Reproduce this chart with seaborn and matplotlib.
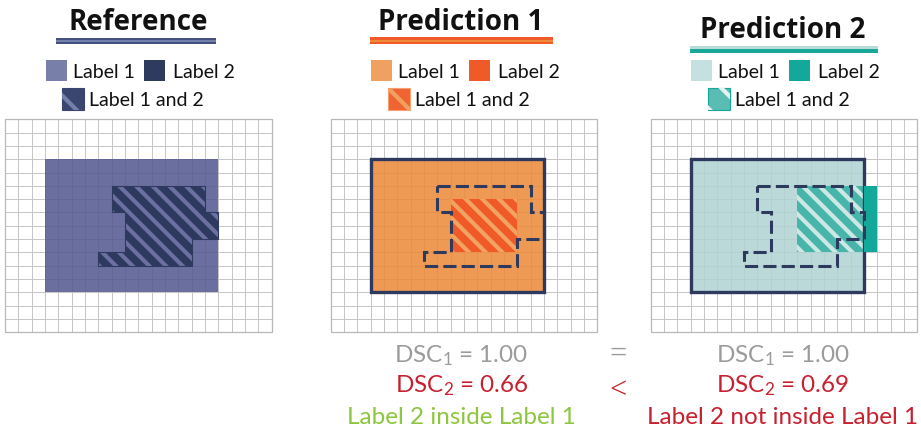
import numpy as np
import matplotlib
matplotlib.use("Agg")
import matplotlib.pyplot as plt
import seaborn as sns
from matplotlib.patches import Rectangle, Polygon
from matplotlib.path import Path
from matplotlib.colors import ListedColormap

# ---------------- data ----------------
N_ROWS, N_COLS = 16, 20
panel_titles = ["Reference", "Prediction 1", "Prediction 2"]
legend_labels = ["Label 1", "Label 2", "Label 1 and 2"]
# boxes as (col0, row0, col1, row1) in grid cells
label1_boxes = [(3, 3, 16, 13), (3, 3, 16, 13), (3, 3, 16, 13)]
reference_label2 = [(8, 5), (15, 5), (15, 7), (16, 7), (16, 9), (14, 9), (14, 11),
                    (7, 11), (7, 10), (9, 10), (9, 7), (8, 7)]
pred1_label2_box = (9, 6, 14, 10)
pred2_label2_box = (11, 5, 17, 10)
dsc1_values = [1.00, 1.00]
dsc2_values = [0.66, 0.69]
verdicts = ["Label 2 inside Label 1", "Label 2 not inside Label 1"]
comparators = ["=", "<"]

# ---------------- style ----------------
sns.set_theme(style="white")
plt.rcParams["font.family"] = ["Lato", "DejaVu Sans"]
plt.rcParams["mathtext.fontset"] = "custom"
plt.rcParams["mathtext.rm"] = "Lato"
plt.rcParams["mathtext.it"] = "Lato:italic"
plt.rcParams["mathtext.bf"] = "Lato:bold"
plt.rcParams["hatch.linewidth"] = 3.0

W, H = 921, 432
fig = plt.figure(figsize=(W / 100, H / 100), dpi=100)
ov = fig.add_axes([0, 0, 1, 1])
ov.set_xlim(0, W)
ov.set_ylim(H, 0)
ov.axis("off")

NAVY = "#2d3a5e"
pal = [
    dict(l1="#51568e", both="#273457", only2="#2e3a5e", stripe="#6b70a0",
         sw1="#7880aa", sw2="#2e3a5e", swb="#3a4670", sws="#7580a8", swe="#3a4670",
         bar_dark="#44507e", bar_light="#7380aa"),
    dict(l1="#ec8837", both="#f15324", only2="#f05a28", stripe="#f2a261",
         sw1="#f0a060", sw2="#f05a28", swb="#f06432", sws="#f2a060", swe="#f4a070",
         bar_dark="#f05a28", bar_light="#f08a3a"),
    dict(l1="#b0d3d3", both="#3bb1a5", only2="#14a89a", stripe="#cde8e4",
         sw1="#c5e0e0", sw2="#14a89a", swb="#5abcb2", sws="#e2f2f0", swe="#14a89a",
         bar_dark="#19a898", bar_light="#b8dcd8"),
]


def box_poly(b):
    c0, r0, c1, r1 = b
    return [(c0, r0), (c1, r0), (c1, r1), (c0, r1)]


def box_intersect(a, b):
    return (max(a[0], b[0]), max(a[1], b[1]), min(a[2], b[2]), min(a[3], b[3]))


cc, rr = np.meshgrid(np.arange(N_COLS) + 0.5, np.arange(N_ROWS) + 0.5)
centers = np.column_stack([cc.ravel(), rr.ravel()])


def poly_mask(verts):
    return Path(verts).contains_points(centers).reshape(N_ROWS, N_COLS)


label2_polys = [reference_label2, box_poly(pred1_label2_box), box_poly(pred2_label2_box)]
both_polys = [reference_label2,
              box_poly(box_intersect(pred1_label2_box, label1_boxes[1])),
              box_poly(box_intersect(pred2_label2_box, label1_boxes[2]))]

GW, GH = 266.7, 213.0
panel_left = [5.0, 330.7, 650.5]
panel_top = 119.3


def heat(ax, mask, color, alpha, z, lw=0.0, lc="none"):
    if not mask.any():
        return
    sns.heatmap(np.ones((N_ROWS, N_COLS)), mask=~mask, cmap=ListedColormap([color]),
                vmin=0, vmax=2, cbar=False, alpha=alpha, linewidths=lw, linecolor=lc,
                xticklabels=False, yticklabels=False, ax=ax)
    ax.collections[-1].set_zorder(z)


for i in range(3):
    p = pal[i]
    ax = fig.add_axes([panel_left[i] / W, 1 - (panel_top + GH) / H, GW / W, GH / H])
    l1 = poly_mask(box_poly(label1_boxes[i]))
    l2 = poly_mask(label2_polys[i])
    # empty grid
    heat(ax, np.ones((N_ROWS, N_COLS), bool), "white", 1.0, 1, lw=0.6, lc="#c6c6c6")
    # label 1 (semi-transparent so the grid shows faintly)
    ax.add_patch(Polygon(box_poly(label1_boxes[i]), closed=True, facecolor=p["l1"],
                         edgecolor="none", alpha=0.85, zorder=2))
    # overlap region
    ax.add_patch(Polygon(both_polys[i], closed=True, facecolor=p["both"],
                         edgecolor="none", alpha=0.9, zorder=3))
    ax.add_patch(Polygon(both_polys[i], closed=True, facecolor="none",
                         edgecolor=p["stripe"], hatch="\\\\", lw=0, zorder=4))
    if i == 0:
        ax.add_patch(Polygon(reference_label2, closed=True, fill=False,
                             edgecolor=NAVY, lw=0.8, zorder=4.5))
    else:
        b = label1_boxes[i]
        ax.add_patch(Rectangle((b[0], b[1]), b[2] - b[0], b[3] - b[1], fill=False,
                               edgecolor=NAVY, lw=2.4, joinstyle="miter", zorder=5))
    # label 2 outside label 1
    heat(ax, l2 & ~l1, p["only2"], 1.0, 6)
    if i > 0:
        ax.add_patch(Polygon(reference_label2, closed=True, fill=False, edgecolor=NAVY,
                             lw=2.2, linestyle=(0, (4.3, 1.7)), zorder=7))
    ax.add_patch(Rectangle((0, 0), N_COLS, N_ROWS, fill=False, edgecolor="#b8b8b8",
                           lw=0.9, clip_on=False, zorder=8))
    ax.set_xlim(0, N_COLS)
    ax.set_ylim(N_ROWS, 0)
    ax.axis("off")

# ---------------- titles ----------------
title_x = [138, 461, 783]
title_y = [30, 29.5, 38.3]
bars = [(56, 37.5, 160, 6), (370, 37, 183, 7), (690, 46, 188, 7)]
for i in range(3):
    ov.text(title_x[i], title_y[i], panel_titles[i], ha="center", va="baseline",
            fontsize=20, fontweight="bold", family=["Open Sans", "DejaVu Sans"],
            color="#111111")
    x, y, w, h = bars[i]
    p = pal[i]
    if i < 2:
        ov.add_patch(Rectangle((x, y), w, h, color=p["bar_dark"], lw=0))
        ov.add_patch(Rectangle((x, y + h * 0.38), w, h * 0.3, color=p["bar_light"], lw=0))
    else:
        ov.add_patch(Rectangle((x, y), w, h, color=p["bar_dark"], lw=0))
        ov.add_patch(Rectangle((x, y), w, h * 0.42, color=p["bar_light"], lw=0))

# ---------------- legends ----------------
leg_sw1_x = [46, 371, 691]
leg_sw2_x = [144, 469, 789]
leg_sw3_x = [62, 388, 708]
for i in range(3):
    p = pal[i]
    ov.add_patch(Rectangle((leg_sw1_x[i], 59.5), 21, 21.5, color=p["sw1"], lw=0))
    ov.add_patch(Rectangle((leg_sw2_x[i], 59.5), 21, 21.5, color=p["sw2"], lw=0))
    ov.add_patch(Rectangle((leg_sw3_x[i], 87.5), 22, 22, facecolor=p["swb"],
                           edgecolor=p["swe"], lw=0.8))
    ov.add_patch(Rectangle((leg_sw3_x[i], 87.5), 22, 22, facecolor="none",
                           edgecolor=p["sws"], hatch="\\", lw=0))
    ov.text(leg_sw1_x[i] + 27, 77.5, legend_labels[0], fontsize=14, va="baseline",
            color="#111111")
    ov.text(leg_sw2_x[i] + 29, 77.5, legend_labels[1], fontsize=14, va="baseline",
            color="#111111")
    ov.text(leg_sw3_x[i] + 27, 105.5, legend_labels[2], fontsize=14, va="baseline",
            color="#111111")

# ---------------- DSC annotations ----------------
GRAY, RED, GREEN = "#9b9b9b", "#c8202f", "#8cc63e"
col_x = [461.5, 783]
for j in range(2):
    ov.text(col_x[j], 362.5, r"DSC$_{\mathrm{1}}$ = %.2f" % dsc1_values[j], ha="center",
            va="baseline", fontsize=17.5, color=GRAY)
    ov.text(col_x[j], 392.5, r"DSC$_{\mathrm{2}}$ = %.2f" % dsc2_values[j], ha="center",
            va="baseline", fontsize=17.5, color=RED)
    ov.text(col_x[j], 423.5, verdicts[j], ha="center", va="baseline", fontsize=17.5,
            color=GREEN if j == 0 else RED)
ov.text(618, 355, comparators[0], ha="center", va="center", fontsize=22,
        family=["Open Sans", "DejaVu Sans"], fontweight="light", color=GRAY)
ov.text(618, 391, comparators[1], ha="center", va="center", fontsize=22,
        family=["Open Sans", "DejaVu Sans"], fontweight="light", color=RED)

fig.savefig("out.png", dpi=100)
